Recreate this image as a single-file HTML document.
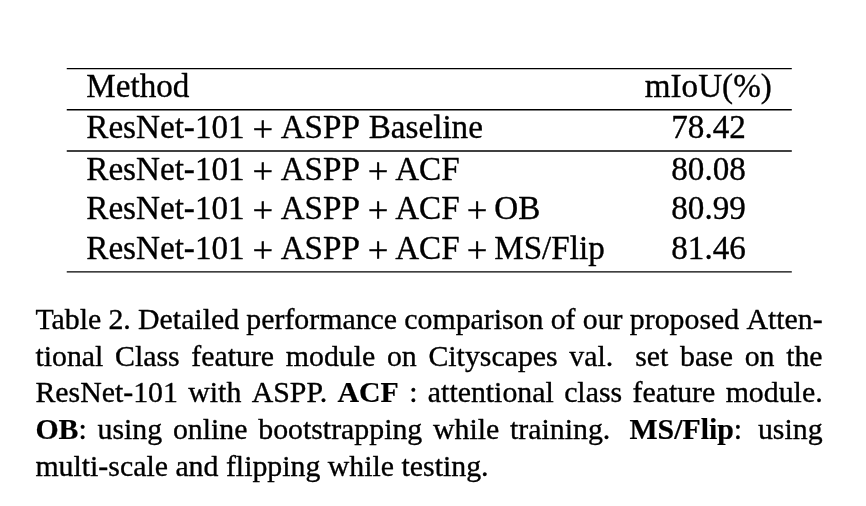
<!DOCTYPE html>
<html><head><meta charset="utf-8">
<style>
html,body{margin:0;padding:0;background:#fff;}
body{width:866px;height:506px;overflow:hidden;}
svg{display:block;}
text{font-family:"Liberation Serif","Times New Roman",serif;fill:#000;white-space:pre;stroke:#000;stroke-width:0.35px;stroke-linejoin:round;}
.t{font-size:33.15px;}
.c{font-size:29.83px;}
.b{font-weight:bold;stroke-width:0.2px;}
.p{font-size:36.63px;}
line{stroke:#000;stroke-width:1.38;}
</style></head><body>
<svg width="866" height="506" viewBox="0 0 866 506">
<line x1="66.75" y1="68.65" x2="791.8" y2="68.65"/>
<line x1="66.75" y1="109.75" x2="791.8" y2="109.75"/>
<line x1="66.75" y1="150.95" x2="791.8" y2="150.95"/>
<line x1="66.75" y1="271.9" x2="791.8" y2="271.9"/>
<text class="t"><tspan x="86.30" y="97">Method</tspan></text>
<text class="t" x="644.8" y="97">mIoU(%)</text>
<text class="t"><tspan x="86.30" y="138">ResNet-101 </tspan><tspan class="p" x="252.41" y="141">+</tspan><tspan x="271.64" y="138"> </tspan><tspan x="280.63" y="138">ASPP </tspan><tspan x="368.76" y="138">Baseline</tspan></text>
<text class="t" x="671.3" y="138">78.42</text>
<text class="t"><tspan x="86.30" y="180">ResNet-101 </tspan><tspan class="p" x="252.41" y="183">+</tspan><tspan x="271.64" y="180"> </tspan><tspan x="280.63" y="180">ASPP </tspan><tspan class="p" x="367.63" y="183">+</tspan><tspan x="386.86" y="180"> </tspan><tspan x="395.15" y="180">ACF</tspan></text>
<text class="t" x="671.3" y="180">80.08</text>
<text class="t"><tspan x="86.30" y="219">ResNet-101 </tspan><tspan class="p" x="252.41" y="222">+</tspan><tspan x="271.64" y="219"> </tspan><tspan x="280.63" y="219">ASPP </tspan><tspan class="p" x="367.63" y="222">+</tspan><tspan x="386.86" y="219"> </tspan><tspan x="395.15" y="219">ACF </tspan><tspan class="p" x="466.69" y="222">+</tspan><tspan x="485.92" y="219"> </tspan><tspan x="494.21" y="219">OB</tspan></text>
<text class="t" x="671.3" y="219">80.99</text>
<text class="t"><tspan x="86.30" y="259">ResNet-101 </tspan><tspan class="p" x="252.41" y="262">+</tspan><tspan x="271.64" y="259"> </tspan><tspan x="280.63" y="259">ASPP </tspan><tspan class="p" x="367.63" y="262">+</tspan><tspan x="386.86" y="259"> </tspan><tspan x="395.15" y="259">ACF </tspan><tspan class="p" x="466.69" y="262">+</tspan><tspan x="485.92" y="259"> </tspan><tspan x="494.21" y="259">MS/Flip</tspan></text>
<text class="t" x="671.3" y="259">81.46</text>
<text class="c" y="329"><tspan x="35.40">Table </tspan><tspan x="108.46">2. </tspan><tspan x="138.07">Detailed </tspan><tspan x="246.35">performance </tspan><tspan x="404.29">comparison </tspan><tspan x="550.71">of </tspan><tspan x="582.79">our </tspan><tspan x="629.80">proposed </tspan><tspan x="746.39">Atten-</tspan></text>
<text class="c" y="366"><tspan x="35.40">tional </tspan><tspan x="115.01">Class </tspan><tspan x="191.32">feature </tspan><tspan x="285.79">module </tspan><tspan x="386.94">on </tspan><tspan x="428.44">Cityscapes </tspan><tspan x="569.36">val. </tspan><tspan x="635.16">set </tspan><tspan x="679.97">base </tspan><tspan x="744.65">on </tspan><tspan x="786.16">the</tspan></text>
<text class="c" y="402"><tspan x="35.40">ResNet-101 </tspan><tspan x="188.27">with </tspan><tspan x="251.68">ASPP. </tspan><tspan class="b" x="337.52">ACF </tspan><tspan x="409.20">: </tspan><tspan x="427.86">attentional </tspan><tspan x="564.14">class </tspan><tspan x="632.50">feature </tspan><tspan x="725.67">module.</tspan></text>
<text class="c" y="439"><tspan class="b" x="35.40">OB</tspan><tspan x="78.50">: </tspan><tspan x="97.54">using </tspan><tspan x="172.93">online </tspan><tspan x="258.24">bootstrapping </tspan><tspan x="433.03">while </tspan><tspan x="510.06">training. </tspan><tspan class="b" x="629.42">MS/Flip</tspan><tspan x="733.84">: </tspan><tspan x="757.96">using</tspan></text>
<text class="c" y="476"><tspan x="35.40">multi-scale </tspan><tspan x="175.39">and </tspan><tspan x="225.92">flipping </tspan><tspan x="327.84">while </tspan><tspan x="401.57">testing.</tspan></text>
</svg>
</body></html>
